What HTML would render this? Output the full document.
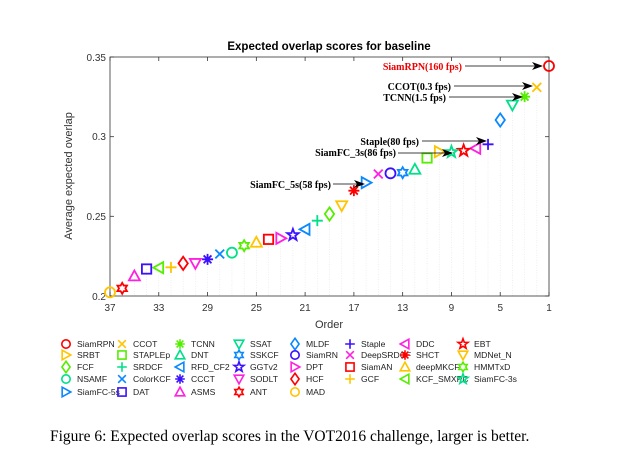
<!DOCTYPE html>
<html><head><meta charset="utf-8"><style>
html,body{margin:0;padding:0;background:#fff;width:632px;height:461px;overflow:hidden}
svg{display:block}
.s{font-family:"Liberation Sans",sans-serif}
.t{font-family:"Liberation Serif",serif}
</style></head><body>
<svg id="c" width="632" height="461" viewBox="0 0 632 461" xmlns="http://www.w3.org/2000/svg">
<rect width="632" height="461" fill="#fff"/>
<g id="grid"></g>
<rect x="110" y="57" width="439" height="239" fill="none" stroke="#333" stroke-width="0.8"/>
<g id="ticks" stroke="#333" stroke-width="0.8"></g>
<text class="s" x="329" y="50" font-size="11.5" font-weight="bold" text-anchor="middle">Expected overlap scores for baseline</text>
<g class="s" font-size="10" fill="#333" text-anchor="end">
<text x="106" y="61">0.35</text><text x="106" y="140">0.3</text><text x="106" y="220">0.25</text><text x="106" y="300">0.2</text>
</g>
<g id="xl" class="s" font-size="10" fill="#333" text-anchor="middle"></g>
<text class="s" x="329" y="328" font-size="11" fill="#333" text-anchor="middle">Order</text>
<text class="s" font-size="11" fill="#333" text-anchor="middle" transform="translate(72,176) rotate(-90)">Average expected overlap</text>
<g id="mk" fill="none"></g>
<g class="t" font-size="10" font-weight="bold" text-anchor="end">
<text x="462" y="70" fill="#e00">SiamRPN(160 fps)</text>
<text x="451" y="90">CCOT(0.3 fps)</text>
<text x="446" y="101">TCNN(1.5 fps)</text>
<text x="419" y="145">Staple(80 fps)</text>
<text x="396" y="156">SiamFC_3s(86 fps)</text>
<text x="331" y="188">SiamFC_5s(58 fps)</text>
</g>
<g id="ar" stroke="#000" stroke-width="0.8"></g>
<g id="lg" fill="none"></g>
<text class="t" x="50" y="441" font-size="15.5">Figure 6: Expected overlap scores in the VOT2016 challenge, larger is better.</text>
</svg>
<script>
const NS="http://www.w3.org/2000/svg";
function el(p,tag,a){const e=document.createElementNS(NS,tag);for(const k in a)e.setAttribute(k,a[k]);p.appendChild(e);return e;}
const R='#ff0000',Y='#ffc400',G='#55ee00',C='#00e08a',B='#0a88ff',P='#3a10ff',M='#ff20e0';
function star(n,r1,r2,off){let p=[];for(let i=0;i<2*n;i++){const r=i%2?r2:r1;const a=off+i*Math.PI/n;p.push((r*Math.cos(a)).toFixed(2)+','+(r*Math.sin(a)).toFixed(2));}return p.join(' ');}
function marker(g,t,x,y,c,r,sw){
 const a={stroke:c,'stroke-width':sw,fill:'none',transform:`translate(${x},${y})`};
 let pts;
 switch(t){
 case'o':a.r=r;el(g,'circle',a);return;
 case'x':a.d=`M${-r*.8},${-r*.8}L${r*.8},${r*.8}M${-r*.8},${r*.8}L${r*.8},${-r*.8}`;el(g,'path',a);return;
 case'+':a.d=`M${-r},0L${r},0M0,${-r}L0,${r}`;el(g,'path',a);return;
 case'*':{let d='';for(let i=0;i<4;i++){const an=i*Math.PI/4;d+=`M${(-r*Math.cos(an)).toFixed(2)},${(-r*Math.sin(an)).toFixed(2)}L${(r*Math.cos(an)).toFixed(2)},${(r*Math.sin(an)).toFixed(2)}`;}a.d=d;el(g,'path',a);return;}
 case's':a.x=-r*.85;a.y=-r*.85;a.width=r*1.7;a.height=r*1.7;el(g,'rect',a);return;
 case'd':pts=`0,${-r*1.2} ${r*.85},0 0,${r*1.2} ${-r*.85},0`;break;
 case'^':pts=`0,${-r} ${r},${r*.8} ${-r},${r*.8}`;break;
 case'v':pts=`0,${r} ${r},${-r*.8} ${-r},${-r*.8}`;break;
 case'<':pts=`${-r},0 ${r*.8},${-r} ${r*.8},${r}`;break;
 case'>':pts=`${r},0 ${-r*.8},${-r} ${-r*.8},${r}`;break;
 case'p':pts=star(5,r*1.1,r*.45,-Math.PI/2);break;
 case'h':pts=star(6,r,r*.58,-Math.PI/2);break;
 }
 a.points=pts;el(g,'polygon',a);
}
const D=[[1,108,'o',R],[2,172,'x',Y],[3,200,'*',G],[4,225,'v',C],[5,270,'d',B],[6,343,'+',P],[7,355,'<',M],[8,362,'p',R],[9,366,'p',C],[10,365,'>',Y],[11,384,'s',G],[12,418,'^',C],[13,428,'h',B],[14,430,'o',P],[15,432,'x',M],[16,458,'>',B],[17,482,'*',R],[18,527,'v',Y],[19,552,'d',G],[20,572,'+',C],[21,598,'<',B],[22,615,'p',P],[23,625,'>',M],[24,628,'s',R],[25,637,'^',Y],[26,647,'h',G],[27,668,'o',C],[28,672,'x',B],[29,688,'*',P],[30,700,'v',M],[31,700,'d',R],[32,712,'+',Y],[33,713,'<',G],[34,717,'s',P],[35,738,'^',M],[36,775,'h',R],[37,787,'o',Y]];
const X=o=>110+(37-o)*439/36;
const grid=document.getElementById('grid'),mk=document.getElementById('mk');
D.forEach(d=>{const x=X(d[0]),y=30+d[1]/3;
 el(grid,'line',{x1:x,y1:y,x2:x,y2:296,stroke:'#e4e4e4','stroke-width':0.6,'stroke-dasharray':'1,1.5'});
 marker(mk,d[2],x,y,d[3],d[2]=='o'?5:5.5,1.8);});
const tk=document.getElementById('ticks'),xl=document.getElementById('xl');
for(let o=37;o>=1;o-=4){const x=X(o);el(tk,'line',{x1:x,y1:296,x2:x,y2:292});el(tk,'line',{x1:x,y1:57,x2:x,y2:61});const t=el(xl,'text',{x:x,y:311});t.textContent=o;}
[57,136.7,216.3,296].forEach(y=>{el(tk,'line',{x1:110,y1:y,x2:114,y2:y});el(tk,'line',{x1:549,y1:y,x2:545,y2:y});});
const ar=document.getElementById('ar');
function arrow(x1,y1,x2,y2){el(ar,'line',{x1,y1,x2:x2-6,y2});el(ar,'polygon',{points:`${x2},${y2} ${x2-11},${y2-4} ${x2-8},${y2} ${x2-11},${y2+4}`,fill:'#000',stroke:'none'});}
arrow(465,66,543,66);arrow(454,86,533,86);arrow(449,97,523,97);arrow(422,141,487,141);arrow(398,153,453,153);arrow(333,184,365,184);
const L=[
[['o',R,'SiamRPN'],['>',Y,'SRBT'],['d',G,'FCF'],['o',C,'NSAMF'],['>',B,'SiamFC-5s']],
[['x',Y,'CCOT'],['s',G,'STAPLEp'],['+',C,'SRDCF'],['x',B,'ColorKCF'],['s',P,'DAT']],
[['*',G,'TCNN'],['^',C,'DNT'],['<',B,'RFD_CF2'],['*',P,'CCCT'],['^',M,'ASMS']],
[['v',C,'SSAT'],['h',B,'SSKCF'],['p',P,'GGTv2'],['v',M,'SODLT'],['h',R,'ANT']],
[['d',B,'MLDF'],['o',P,'SiamRN'],['>',M,'DPT'],['d',R,'HCF'],['o',Y,'MAD']],
[['+',P,'Staple'],['x',M,'DeepSRDCF'],['s',R,'SiamAN'],['+',Y,'GCF']],
[['<',M,'DDC'],['*',R,'SHCT'],['^',Y,'deepMKCF'],['<',G,'KCF_SMXPC']],
[['p',R,'EBT'],['v',Y,'MDNet_N'],['h',G,'HMMTxD'],['p',C,'SiamFC-3s']]];
const cx=[66,122,180,239,295,350,405,463],ry=[344,355,367,379,392];
const lg=document.getElementById('lg');
L.forEach((col,i)=>col.forEach((e,j)=>{marker(lg,e[0],cx[i],ry[j],e[1],e[0]=='o'?4.2:4.8,1.6);
 const t=el(lg,'text',{x:cx[i]+11,y:ry[j]+3,'font-size':8.6,fill:'#222',stroke:'none','font-family':'Liberation Sans, sans-serif'});t.textContent=e[2];}));
</script>
</body></html>
